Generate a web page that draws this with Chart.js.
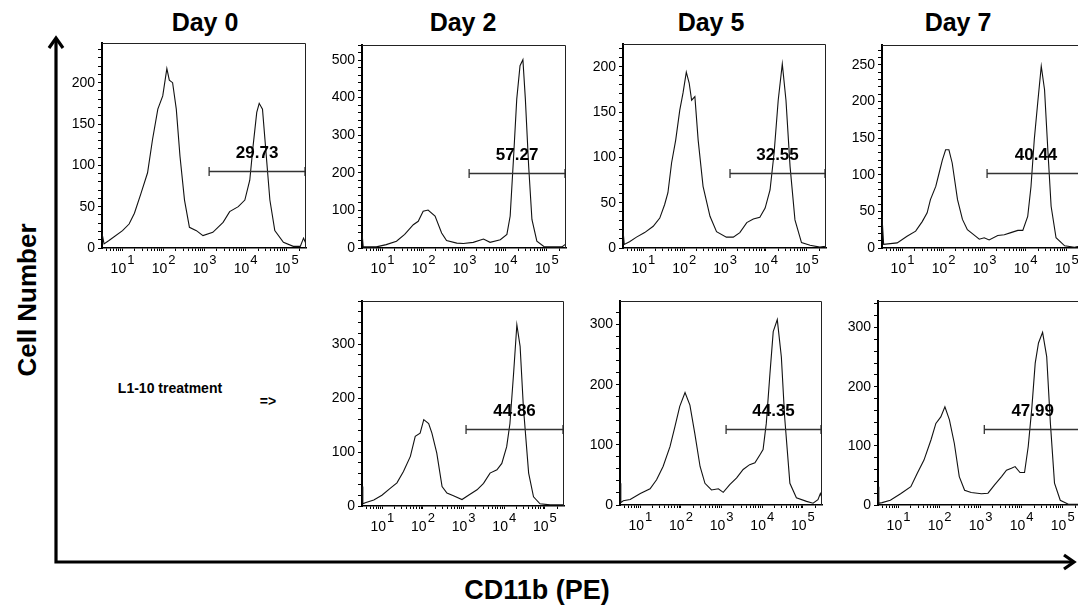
<!DOCTYPE html>
<html>
<head>
<meta charset="utf-8">
<script src="https://cdn.jsdelivr.net/npm/chart.js@4.4.1/dist/chart.umd.min.js"></script>
<style>
  html, body { margin: 0; padding: 0; }
  body { width: 1078px; height: 610px; overflow: hidden; background: #fff; position: relative;
         font-family: "Liberation Sans", Arial, sans-serif; color: #000; }
  .panel { position: absolute; }
  .lbl { position: absolute; font-weight: bold; white-space: nowrap; line-height: 1; transform: translate(-50%, -50%); }
</style>
</head>
<body>

<svg width="1078" height="610" style="position:absolute;left:0;top:0">
  <g stroke="#000" stroke-width="3.2" fill="none" stroke-linejoin="miter">
    <polyline points="56,38 56,562 1074,562"/>
    <polyline points="49,48 56,38 63,48"/>
    <polyline points="1064,555 1074,562 1064,569"/>
  </g>
</svg>

<div class="lbl" style="left:205px;top:22px;font-size:25px">Day 0</div>
<div class="lbl" style="left:463px;top:22px;font-size:25px">Day 2</div>
<div class="lbl" style="left:711px;top:22px;font-size:25px">Day 5</div>
<div class="lbl" style="left:958px;top:22px;font-size:25px">Day 7</div>
<div class="lbl" style="left:27px;top:300px;font-size:26px;transform:translate(-50%,-50%) rotate(-90deg)">Cell Number</div>
<div class="lbl" style="left:537px;top:590px;font-size:27px">CD11b (PE)</div>
<div class="lbl" style="left:170px;top:388px;font-size:14px">L1-10 treatment</div>
<div class="lbl" style="left:268px;top:401px;font-size:14px">=&gt;</div>

<div class="panel" id="wrap-top0"><canvas id="top0"></canvas></div>
<div class="panel" id="wrap-top2"><canvas id="top2"></canvas></div>
<div class="panel" id="wrap-top5"><canvas id="top5"></canvas></div>
<div class="panel" id="wrap-top7"><canvas id="top7"></canvas></div>
<div class="panel" id="wrap-bot2"><canvas id="bot2"></canvas></div>
<div class="panel" id="wrap-bot5"><canvas id="bot5"></canvas></div>
<div class="panel" id="wrap-bot7"><canvas id="bot7"></canvas></div>

<script>
// x values are log10 of CD11b (PE) intensity, y values are cell counts
const top0X = [0.5, 0.55, 0.67, 1.0, 1.16, 1.29, 1.45, 1.61, 1.73, 1.86, 1.98, 2.08, 2.14, 2.22, 2.31, 2.40, 2.51, 2.63, 2.80, 2.96, 3.20, 3.45, 3.61, 3.82, 3.98, 4.10, 4.18, 4.27, 4.33, 4.41, 4.49, 4.59, 4.71, 4.92, 5.16, 5.33, 5.41, 5.47];
const top0Y = [18, 5, 9, 21, 29, 42, 66, 91, 131, 168, 184, 217, 203, 200, 168, 111, 58, 25, 21, 15, 19, 31, 44, 50, 58, 82, 123, 164, 175, 168, 119, 58, 21, 7, 2, 2, 12, 5];

const top2X = [0.5, 0.53, 0.61, 0.85, 1.09, 1.34, 1.54, 1.75, 1.87, 1.99, 2.11, 2.28, 2.44, 2.56, 2.81, 2.97, 3.21, 3.46, 3.62, 3.87, 4.03, 4.11, 4.19, 4.27, 4.35, 4.42, 4.48, 4.56, 4.64, 4.76, 4.93, 5.17, 5.37, 5.47];
const top2Y = [40, 3, 3, 3, 9, 18, 36, 62, 71, 98, 101, 85, 40, 20, 13, 12, 15, 24, 15, 22, 36, 85, 236, 396, 485, 501, 396, 218, 76, 18, 4, 3, 3, 11];

const top5X = [0.5, 0.53, 0.66, 0.83, 1.03, 1.24, 1.40, 1.52, 1.60, 1.69, 1.79, 1.89, 1.97, 2.05, 2.12, 2.18, 2.26, 2.34, 2.46, 2.63, 2.79, 3.03, 3.20, 3.36, 3.53, 3.69, 3.85, 3.98, 4.10, 4.20, 4.30, 4.40, 4.49, 4.59, 4.71, 4.87, 5.08, 5.32, 5.45, 5.47];
const top5Y = [20, 4, 7, 12, 17, 24, 33, 48, 61, 94, 119, 152, 171, 194, 182, 163, 167, 119, 68, 35, 18, 12, 12, 17, 28, 32, 34, 44, 64, 105, 163, 203, 163, 90, 31, 6, 3, 1, 2, 3];

const top7X = [0.5, 0.54, 0.87, 1.11, 1.32, 1.48, 1.60, 1.68, 1.81, 1.89, 1.97, 2.05, 2.13, 2.21, 2.34, 2.46, 2.58, 2.74, 2.87, 2.99, 3.11, 3.32, 3.48, 3.64, 3.81, 3.93, 4.05, 4.13, 4.21, 4.30, 4.38, 4.46, 4.54, 4.62, 4.74, 4.95, 5.19, 5.34, 5.47];
const top7Y = [43, 5, 7, 16, 23, 36, 48, 66, 84, 102, 120, 134, 134, 116, 66, 39, 25, 18, 12, 14, 11, 17, 18, 21, 24, 24, 43, 84, 148, 202, 248, 216, 134, 57, 14, 3, 1, 3, 2];

const bot2X = [0.5, 0.52, 0.58, 0.79, 0.99, 1.20, 1.36, 1.52, 1.69, 1.81, 1.93, 2.02, 2.14, 2.22, 2.34, 2.47, 2.59, 2.75, 2.96, 3.12, 3.33, 3.49, 3.65, 3.82, 3.94, 4.06, 4.14, 4.23, 4.31, 4.39, 4.47, 4.60, 4.72, 4.88, 5.13, 5.47];
const bot2Y = [36, 4, 6, 11, 20, 33, 43, 64, 92, 129, 135, 160, 153, 135, 98, 36, 24, 19, 12, 20, 30, 42, 61, 67, 79, 110, 153, 246, 336, 296, 184, 61, 17, 4, 2, 2];

const bot5X = [0.5, 0.52, 0.58, 0.75, 1.00, 1.24, 1.40, 1.56, 1.73, 1.85, 1.97, 2.10, 2.22, 2.34, 2.47, 2.59, 2.75, 2.92, 3.04, 3.20, 3.37, 3.53, 3.69, 3.82, 3.94, 4.02, 4.10, 4.19, 4.27, 4.37, 4.47, 4.55, 4.68, 4.84, 5.09, 5.25, 5.37, 5.43, 5.47];
const bot5Y = [36, 4, 7, 9, 19, 27, 42, 64, 97, 130, 164, 187, 166, 119, 64, 36, 25, 27, 21, 34, 45, 59, 67, 70, 83, 92, 136, 219, 288, 308, 246, 147, 36, 12, 6, 3, 9, 19, 12];

const bot7X = [0.5, 0.52, 0.60, 0.80, 1.05, 1.30, 1.46, 1.62, 1.79, 1.91, 2.03, 2.13, 2.24, 2.36, 2.48, 2.61, 2.77, 3.02, 3.18, 3.34, 3.51, 3.63, 3.75, 3.84, 3.96, 4.07, 4.16, 4.25, 4.33, 4.41, 4.51, 4.61, 4.70, 4.80, 4.94, 5.15, 5.47];
const bot7Y = [31, 3, 4, 8, 19, 31, 54, 76, 110, 138, 149, 166, 144, 104, 48, 25, 21, 19, 20, 34, 48, 59, 62, 65, 55, 55, 99, 166, 240, 274, 292, 251, 138, 37, 8, 1, 1];

// panel order: top0, top2, top5, top7, bot2, bot5, bot7
const panelIds   = ['top0', 'top2', 'top5', 'top7', 'bot2', 'bot5', 'bot7'];
const yMaxes     = [248, 540, 225, 277, 380, 339, 345];
const yMajors    = [50, 100, 50, 50, 100, 100, 100];
const yMinors    = [10, 20, 10, 10, 20, 20, 20];
const gateStarts = [3.11, 3.11, 3.12, 3.06, 3.06, 3.11, 3.09];
const gateLevels = [93, 200, 83, 102, 143, 126, 129];
const gateTexts  = ['29.73', '57.27', '32.55', '40.44', '44.86', '44.35', '47.99'];
const decades    = [1, 2, 3, 4, 5];

const seriesX = [top0X, top2X, top5X, top7X, bot2X, bot5X, bot7X];
const seriesY = [top0Y, top2Y, top5Y, top7Y, bot2Y, bot5Y, bot7Y];

// plot box of each panel in the page: left, top, width, height
const boxes = [
  [102, 43, 204, 205],
  [362, 45, 204, 203],
  [623, 44, 203, 204],
  [882, 45, 204, 203],
  [362, 301, 202, 205],
  [620, 301, 202, 204],
  [878, 301, 204, 204]
];

const AXIS_W = 50, AXIS_H = 40, PAD = 12;
const X_MIN = 0.5, X_MAX = 5.47;
const FONT = '"Liberation Sans", Arial, sans-serif';

Chart.defaults.font.family = FONT;
Chart.defaults.color = '#000';

function logTicks() {
  const t = [];
  for (let n = 0; n <= 5; n++) {
    for (let k = 1; k <= 9; k++) {
      const v = n + Math.log10(k);
      if (v >= X_MIN && v <= X_MAX) t.push({ value: v });
    }
  }
  return t;
}

const framePlugin = {
  id: 'frame',
  afterDraw(chart) {
    const { ctx, chartArea: a } = chart;
    ctx.save();
    ctx.strokeStyle = '#222';
    ctx.lineWidth = 1;
    ctx.beginPath();
    ctx.moveTo(a.left, a.top + 0.5);
    ctx.lineTo(a.right - 0.5, a.top + 0.5);
    ctx.lineTo(a.right - 0.5, a.bottom);
    ctx.stroke();
    ctx.restore();
  }
};

const gatePlugin = {
  id: 'gate',
  afterDatasetsDraw(chart, args, opts) {
    const { ctx, scales: { x, y } } = chart;
    const x1 = x.getPixelForValue(opts.start);
    const x2 = x.getPixelForValue(X_MAX) - 1;
    const py = Math.round(y.getPixelForValue(opts.level)) + 0.5;
    ctx.save();
    ctx.strokeStyle = '#333';
    ctx.lineWidth = 1.3;
    ctx.beginPath();
    ctx.moveTo(x1, py); ctx.lineTo(x2, py);
    ctx.moveTo(x1, py - 4.5); ctx.lineTo(x1, py + 4.5);
    ctx.moveTo(x2, py - 4.5); ctx.lineTo(x2, py + 4.5);
    ctx.stroke();
    ctx.fillStyle = '#000';
    ctx.font = 'bold 17px ' + FONT;
    ctx.textAlign = 'center';
    ctx.textBaseline = 'alphabetic';
    ctx.fillText(opts.text, (x1 + x2) / 2, py - 14);
    ctx.restore();
  }
};

const decadePlugin = {
  id: 'decades',
  afterDraw(chart) {
    const { ctx, chartArea: a, scales: { x } } = chart;
    ctx.save();
    ctx.fillStyle = '#000';
    ctx.textAlign = 'left';
    ctx.textBaseline = 'alphabetic';
    decades.forEach(n => {
      const px = x.getPixelForValue(n);
      ctx.font = '14px ' + FONT;
      const wb = ctx.measureText('10').width;
      ctx.font = '13px ' + FONT;
      const ws = ctx.measureText(String(n)).width;
      const start = px - (wb + ws + 1) / 2;
      ctx.font = '14px ' + FONT;
      ctx.fillText('10', start, a.bottom + 25);
      ctx.font = '13px ' + FONT;
      ctx.fillText(String(n), start + wb + 1, a.bottom + 16);
    });
    ctx.restore();
  }
};

function gerarPainel(i) {
  const id = panelIds[i];
  const box = boxes[i];
  const wrap = document.getElementById('wrap-' + id);
  wrap.style.left = (box[0] - AXIS_W) + 'px';
  wrap.style.top = (box[1] - PAD) + 'px';
  wrap.style.width = (box[2] + AXIS_W + PAD) + 'px';
  wrap.style.height = (box[3] + PAD + AXIS_H) + 'px';

  const yMax = yMaxes[i], yMajor = yMajors[i], yMinor = yMinors[i];
  const pontos = seriesX[i].map((v, j) => ({ x: v, y: seriesY[i][j] }));

  new Chart(document.getElementById(id).getContext('2d'), {
    type: 'line',
    data: {
      datasets: [{
        data: pontos,
        borderColor: '#111',
        borderWidth: 1.1,
        pointRadius: 0,
        tension: 0,
        fill: false
      }]
    },
    options: {
      responsive: true,
      maintainAspectRatio: false,
      animation: false,
      events: [],
      layout: { padding: { top: PAD, right: PAD, left: 0, bottom: 0 } },
      plugins: {
        legend: { display: false },
        tooltip: { enabled: false },
        gate: { start: gateStarts[i], level: gateLevels[i], text: gateTexts[i] }
      },
      scales: {
        x: {
          type: 'linear',
          min: X_MIN,
          max: X_MAX,
          afterBuildTicks: s => { s.ticks = logTicks(); },
          afterFit: s => { s.height = AXIS_H; },
          ticks: { display: false },
          grid: { display: true, drawOnChartArea: false, drawTicks: true, tickLength: 3, color: '#000', lineWidth: 1 },
          border: { display: true, color: '#000', width: 1.5 }
        },
        y: {
          type: 'linear',
          min: 0,
          max: yMax,
          afterBuildTicks: s => {
            const t = [];
            for (let v = 0; v <= yMax; v += yMinor) t.push({ value: v });
            s.ticks = t;
          },
          afterFit: s => { s.width = AXIS_W; },
          ticks: {
            autoSkip: false,
            padding: 3,
            color: '#000',
            font: { size: 14 },
            callback: v => (v % yMajor === 0 ? String(v) : '')
          },
          grid: { display: true, drawOnChartArea: false, drawTicks: true, tickLength: 4, color: '#000', lineWidth: 1 },
          border: { display: true, color: '#000', width: 2 }
        }
      }
    },
    plugins: [framePlugin, gatePlugin, decadePlugin]
  });
}

panelIds.forEach((id, i) => gerarPainel(i));
</script>
</body>
</html>
